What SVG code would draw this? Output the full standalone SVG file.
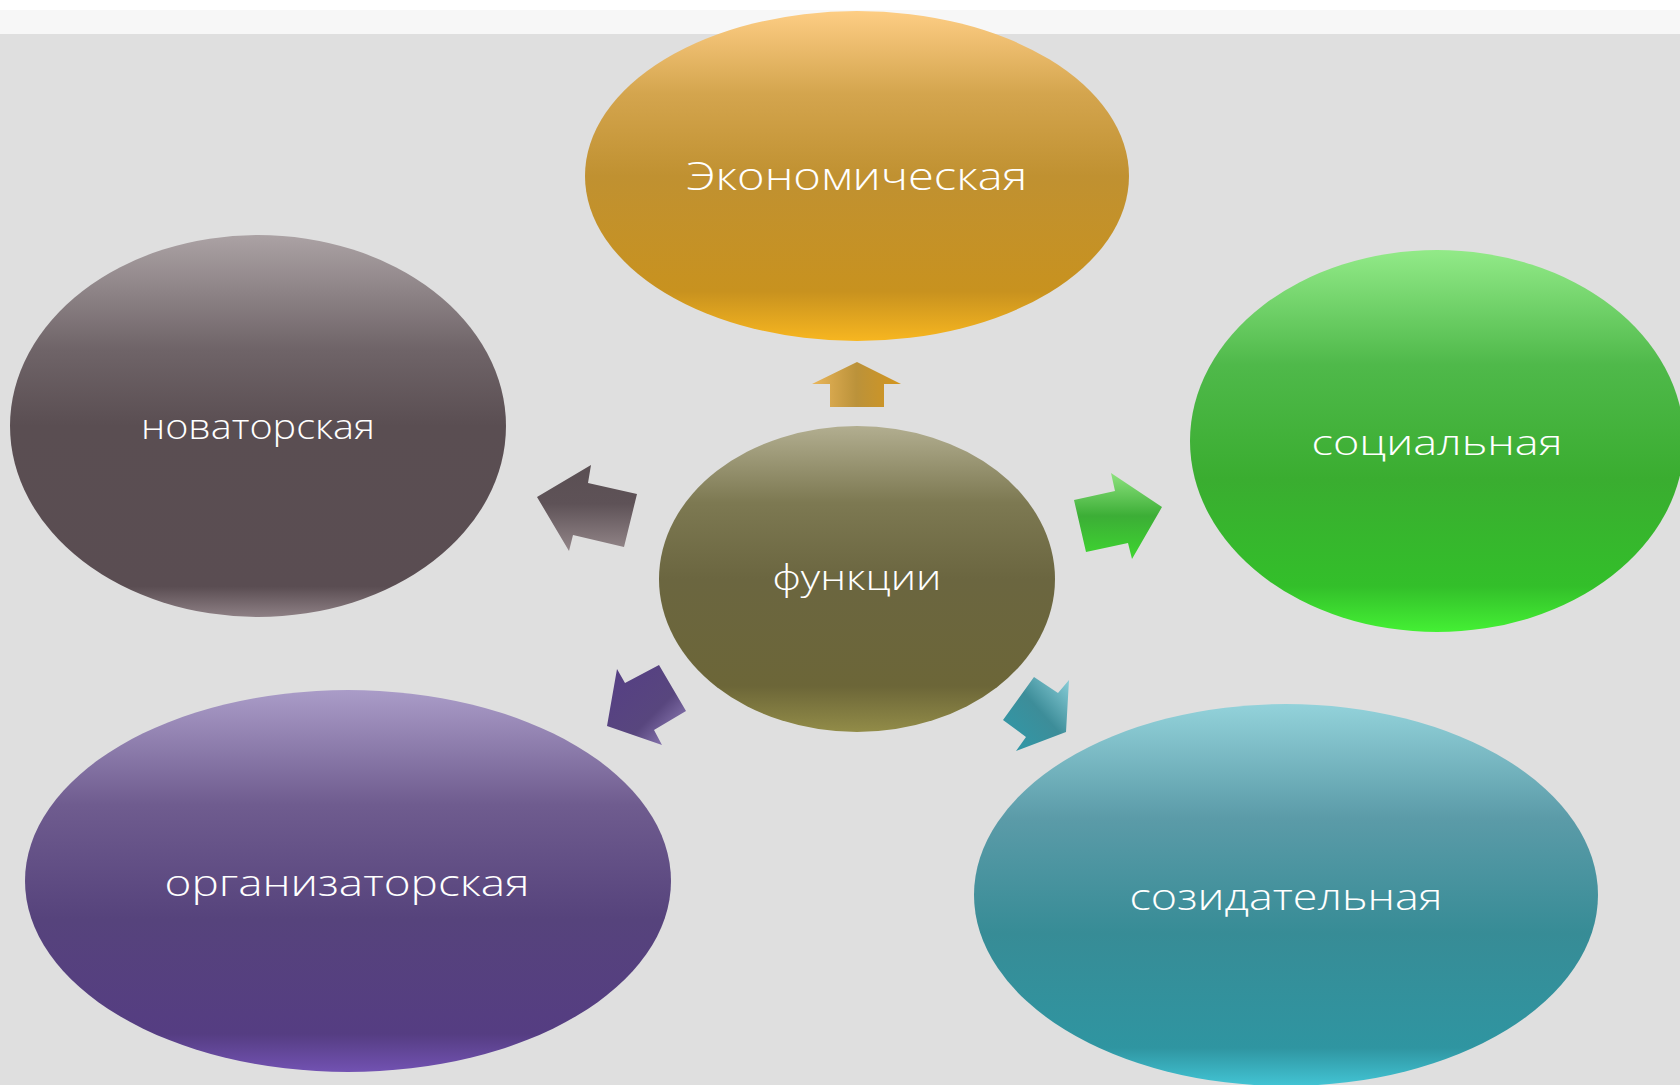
<svg xmlns="http://www.w3.org/2000/svg" width="1680" height="1085" viewBox="0 0 1680 1085">
<defs>
<linearGradient id="gEco" x1="0" y1="0" x2="0" y2="1">
<stop offset="0" stop-color="#fdcd84"/><stop offset="0.25" stop-color="#d4a54e"/><stop offset="0.5" stop-color="#c09131"/><stop offset="0.85" stop-color="#c8921f"/><stop offset="1" stop-color="#f7b620"/>
</linearGradient>
<linearGradient id="gNov" x1="0" y1="0" x2="0" y2="1">
<stop offset="0" stop-color="#aba2a4"/><stop offset="0.3" stop-color="#6f6468"/><stop offset="0.5" stop-color="#5a4e52"/><stop offset="0.92" stop-color="#5a4d52"/><stop offset="1" stop-color="#8e8085"/>
</linearGradient>
<linearGradient id="gSoc" x1="0" y1="0" x2="0" y2="1">
<stop offset="0" stop-color="#92ea88"/><stop offset="0.3" stop-color="#4fb94a"/><stop offset="0.6" stop-color="#3aad30"/><stop offset="0.88" stop-color="#33bf2a"/><stop offset="1" stop-color="#44f034"/>
</linearGradient>
<linearGradient id="gFun" x1="0" y1="0" x2="0" y2="1">
<stop offset="0" stop-color="#b2ae90"/><stop offset="0.25" stop-color="#7d7952"/><stop offset="0.5" stop-color="#6b6640"/><stop offset="0.85" stop-color="#6c6638"/><stop offset="1" stop-color="#928c48"/>
</linearGradient>
<linearGradient id="gOrg" x1="0" y1="0" x2="0" y2="1">
<stop offset="0" stop-color="#aa9cc8"/><stop offset="0.3" stop-color="#6f5c8f"/><stop offset="0.6" stop-color="#56437c"/><stop offset="0.9" stop-color="#553d82"/><stop offset="1" stop-color="#7252b2"/>
</linearGradient>
<linearGradient id="gSoz" x1="0" y1="0" x2="0" y2="1">
<stop offset="0" stop-color="#93d2da"/><stop offset="0.3" stop-color="#5b9ba8"/><stop offset="0.6" stop-color="#378c96"/><stop offset="0.9" stop-color="#2f95a1"/><stop offset="1" stop-color="#42c4d4"/>
</linearGradient>
<linearGradient id="aUp" x1="0" y1="0" x2="1" y2="0">
<stop offset="0" stop-color="#eab65a"/><stop offset="0.5" stop-color="#bb923a"/><stop offset="1" stop-color="#d4961e"/>
</linearGradient>
<linearGradient id="aLeft" x1="0" y1="0" x2="0" y2="1">
<stop offset="0" stop-color="#5a4f53"/><stop offset="0.45" stop-color="#5e5257"/><stop offset="1" stop-color="#938689"/>
</linearGradient>
<linearGradient id="aRight" x1="0" y1="0" x2="0" y2="1">
<stop offset="0" stop-color="#8ee27f"/><stop offset="0.5" stop-color="#3cae36"/><stop offset="1" stop-color="#3ed630"/>
</linearGradient>
<linearGradient id="aPur" x1="0" y1="0" x2="1" y2="1">
<stop offset="0" stop-color="#553e85"/><stop offset="0.6" stop-color="#58467e"/><stop offset="1" stop-color="#a08ec8"/>
</linearGradient>
<linearGradient id="aTeal" x1="1" y1="0" x2="0" y2="1">
<stop offset="0" stop-color="#8cd0da"/><stop offset="0.45" stop-color="#3d8d99"/><stop offset="1" stop-color="#2e9aaa"/>
</linearGradient>
</defs>
<style>
.lbl{font-family:"Open Sans","Liberation Sans","DejaVu Sans",sans-serif;font-weight:300;fill:#ffffff;text-anchor:middle;}
</style>
<rect x="0" y="0" width="1680" height="1085" fill="#dfdfdf"/>
<rect x="0" y="0" width="1680" height="10" fill="#ffffff"/>
<rect x="0" y="10" width="1680" height="24" fill="#f7f7f7"/>

<g id="connectors">
<polygon points="857,362 901,384 884,384 884,407 830,407 830,384 812,384" fill="url(#aUp)"/>
<polygon points="537,497 591,465 588,483 637,494 624,547 573,535 569,551" fill="url(#aLeft)"/>
<polygon points="1162,507 1132,559 1128,543 1086,552 1074,500 1115,491 1111,473" fill="url(#aRight)"/>
<polygon points="607,726 617,669 625,683 659,665 686,711 654,730 662,745" fill="url(#aPur)"/>
<polygon points="1066,732 1016,751 1026,737 1003,720 1034,677 1058,693 1069,680" fill="url(#aTeal)"/>
</g>

<g id="node-eco">
<ellipse cx="857" cy="176" rx="272" ry="165" fill="url(#gEco)"/>
<text class="lbl" x="857" y="190" font-size="39" textLength="341" lengthAdjust="spacingAndGlyphs">Экономическая</text>
</g>
<g id="node-nov">
<ellipse cx="258" cy="426" rx="248" ry="191" fill="url(#gNov)"/>
<text class="lbl" x="258" y="439" font-size="35" textLength="234" lengthAdjust="spacingAndGlyphs">новаторская</text>
</g>
<g id="node-soc">
<ellipse cx="1437" cy="441" rx="247" ry="191" fill="url(#gSoc)"/>
<text class="lbl" x="1437" y="455" font-size="35" textLength="251" lengthAdjust="spacingAndGlyphs">социальная</text>
</g>
<g id="node-fun">
<ellipse cx="857" cy="579" rx="198" ry="153" fill="url(#gFun)"/>
<text class="lbl" x="857" y="590" font-size="35" textLength="169" lengthAdjust="spacingAndGlyphs">функции</text>
</g>
<g id="node-org">
<ellipse cx="348" cy="881" rx="323" ry="191" fill="url(#gOrg)"/>
<text class="lbl" x="347" y="896" font-size="37" textLength="365" lengthAdjust="spacingAndGlyphs">организаторская</text>
</g>
<g id="node-soz">
<ellipse cx="1286" cy="895" rx="312" ry="191" fill="url(#gSoz)"/>
<text class="lbl" x="1286" y="910" font-size="37" textLength="313" lengthAdjust="spacingAndGlyphs">созидательная</text>
</g>
</svg>
